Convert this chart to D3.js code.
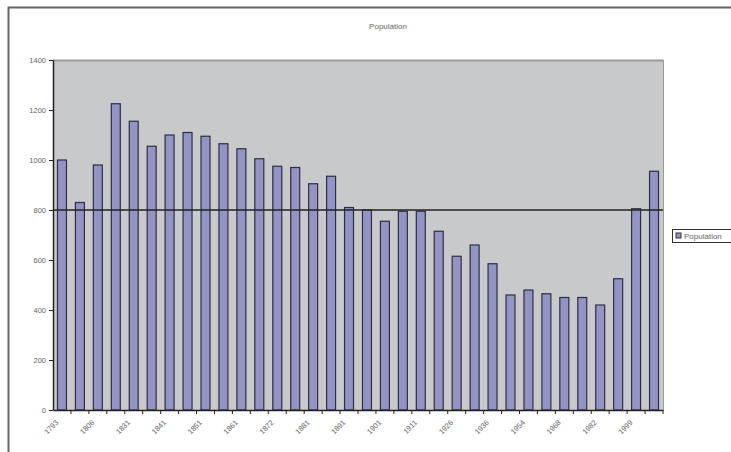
<!DOCTYPE html>
<html>
<head>
<meta charset="utf-8">
<script src="https://cdn.jsdelivr.net/npm/d3@7"></script>
<style>
body { margin: 0; background: #fff; }
svg text { font-family: "Liberation Sans", Arial, sans-serif; }
</style>
</head>
<body>
<svg width="731" height="452"></svg>
<script>
// census years and population counts
var years = ["1793","1800","1806","1821","1831","1836","1841","1846","1851","1856",
    "1861","1866","1872","1876","1881","1886","1891","1896","1901","1906",
    "1911","1921","1926","1931","1936","1946","1954","1962","1968","1975",
    "1982","1990","1999","2006"];
var population = [1000, 830, 980, 1225, 1155, 1055, 1100, 1110, 1095, 1065,
    1045, 1005, 975, 970, 905, 935, 810, 800, 755, 795,
    795, 715, 615, 660, 585, 460, 480, 465, 450, 450,
    420, 525, 805, 955];
var yTicks = [0, 200, 400, 600, 800, 1000, 1200, 1400];
var refLine = 800;

var svg = d3.select('svg');

// outer frame
svg.append('path')
    .attr('d', 'M8.5,460V7.5H740')
    .attr('fill', 'none')
    .attr('stroke', '#666')
    .attr('stroke-width', 2);

var xScale = d3.scaleBand()
    .domain(years).range([53, 663]).paddingInner(0.5).paddingOuter(0.25);

var yScale = d3.scaleLinear()
    .domain([0, 1400]).range([410, 60]);

// plot background
svg.append('rect')
    .attr('x', 53).attr('y', 60)
    .attr('width', 610).attr('height', 350)
    .attr('fill', '#c8c9cb');
svg.append('line')
    .attr('x1', 53).attr('x2', 663).attr('y1', 60.5).attr('y2', 60.5)
    .attr('stroke', '#999').attr('stroke-width', 2);
svg.append('line')
    .attr('x1', 663.5).attr('x2', 663.5).attr('y1', 60).attr('y2', 410)
    .attr('stroke', '#999');

// bars
svg.selectAll('rect.bar')
    .data(population)
    .enter()
    .append('rect')
    .attr('class', 'bar')
    .attr('x', function(d, i){ return xScale(years[i]); })
    .attr('y', function(d){ return yScale(d); })
    .attr('width', xScale.bandwidth())
    .attr('height', function(d){ return yScale(0) - yScale(d); })
    .attr('fill', '#9393c6')
    .attr('stroke', '#2e2e40')
    .attr('stroke-width', 1.2);

// reference line at 800
svg.append('line')
    .attr('x1', 53).attr('x2', 663)
    .attr('y1', yScale(refLine)).attr('y2', yScale(refLine))
    .attr('stroke', '#222').attr('stroke-width', 1.3);

// y axis
var yAxis = svg.append('g')
    .attr('transform', 'translate(53,0)')
    .call(d3.axisLeft(yScale).tickValues(yTicks).tickSize(4).tickSizeOuter(0)
        .tickFormat(d3.format('d')));
yAxis.select('.domain').attr('stroke', '#222').attr('stroke-width', 1.5);
yAxis.selectAll('.tick line').attr('stroke', '#222');
yAxis.selectAll('text')
    .attr('font-size', 7.5)
    .attr('fill', '#666');

// x axis: ticks on every category boundary, labels every other bar
var xAxis = svg.append('g')
    .attr('transform', 'translate(0,410)')
    .call(d3.axisBottom(xScale).tickSize(4).tickSizeOuter(0)
        .tickFormat(function(d, i){ return i % 2 === 0 ? d : ''; }));
xAxis.select('.domain').attr('stroke', '#222').attr('stroke-width', 1.5);
xAxis.selectAll('.tick line')
    .attr('stroke', '#222')
    .attr('transform', 'translate(' + (xScale.step() / 2) + ',0)');
xAxis.selectAll('text')
    .attr('font-size', 7.5)
    .attr('fill', '#666')
    .attr('text-anchor', 'end')
    .attr('dy', null)
    .attr('y', 0)
    .attr('transform', 'translate(-3,13) rotate(-45)');

// title
svg.append('text')
    .attr('x', 388).attr('y', 29)
    .attr('text-anchor', 'middle')
    .attr('font-size', 8)
    .attr('fill', '#666')
    .text('Population');

// legend
var legend = svg.append('g').attr('transform', 'translate(672,229)');
legend.append('rect')
    .attr('x', 0.5).attr('y', 0.5).attr('width', 70).attr('height', 13)
    .attr('fill', '#fff').attr('stroke', '#333');
legend.append('rect')
    .attr('x', 4).attr('y', 4).attr('width', 5).attr('height', 5)
    .attr('fill', '#9393c6').attr('stroke', '#333');
legend.append('text')
    .attr('x', 12).attr('y', 10)
    .attr('font-size', 8)
    .attr('fill', '#666')
    .text('Population');
</script>
</body>
</html>
